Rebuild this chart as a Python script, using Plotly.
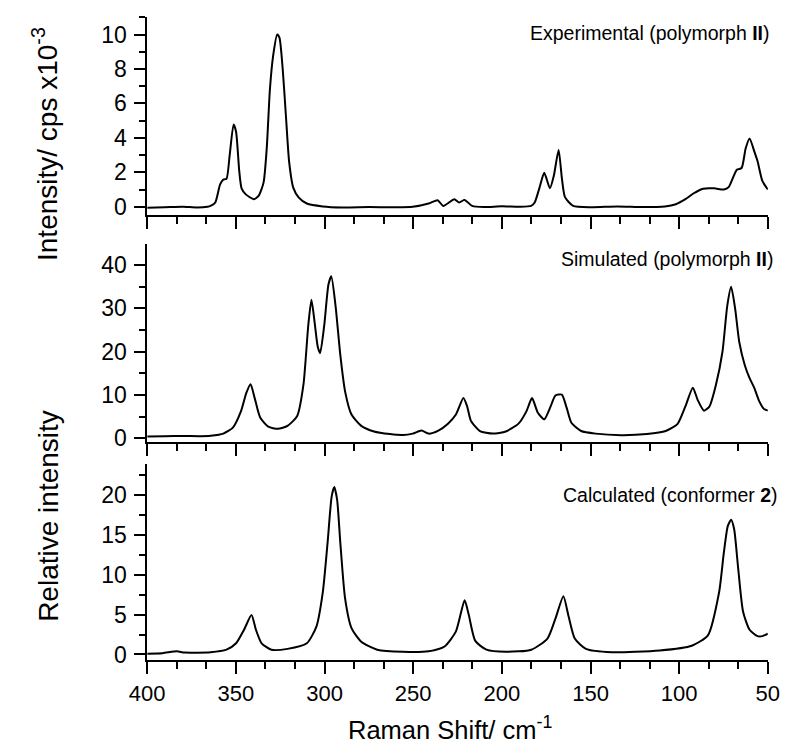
import plotly.graph_objects as go

# Raman shift (cm^-1) and intensities for the three spectra
exp_shift = [400, 390, 380, 372, 366, 364.3, 361.6, 358.9, 357.1, 355.3, 353.5, 351.3, 349.9,
             348.1, 346.8, 344.4, 339.9, 337.2, 334.4, 332.6, 330.8, 329, 326.7, 325.4, 323.6,
             321.8, 320, 317.6, 314.5, 310, 301, 290, 275, 260, 250.3, 241.3, 236.2, 233.1,
             226.8, 224.1, 221, 216.8, 210, 200, 190, 183.5, 181.5, 178.8, 176.1, 172.9, 170.7,
             168, 166.2, 164.4, 159.8, 150, 135, 120, 108, 101.9, 96.5, 92, 86.5, 80.2, 74.8,
             72.1, 67.5, 64.8, 62.5, 60.3, 57.6, 55.8, 53.1, 50]
exp_int = [-0.05, -0.03, 0.0, -0.04, 0.0, 0.05, 0.25, 1.3, 1.58, 1.62, 3.0, 4.78, 4.36,
           2.07, 1.07, 0.72, 0.44, 0.63, 1.4, 3.4, 6.84, 8.76, 10.0, 9.8, 8.0,
           5.3, 2.64, 1.1, 0.53, 0.19, 0.02, -0.04, -0.02, -0.03, 0.0, 0.19, 0.38, 0.05,
           0.44, 0.25, 0.4, 0.05, -0.02, 0.03, 0.0, 0.05, 0.25, 1.1, 1.97, 1.07, 1.8,
           3.3, 1.7, 0.56, 0.05, -0.03, 0.02, -0.02, 0.02, 0.15, 0.44, 0.77, 1.05, 1.07, 1.0,
           1.14, 2.15, 2.25, 3.4, 3.97, 3.2, 2.64, 1.5, 1.0]

sim_shift = [400, 390, 380, 370, 364.3, 357.1, 351.7, 347.1, 344.1, 341.7, 339.4, 336.3,
             331.7, 326.3, 320.9, 315.5, 311.9, 309.2, 307.4, 305.6, 303.8, 302.5, 300.2,
             297.8, 296.2, 293.8, 291.1, 288.4, 284.8, 279.3, 272.1, 263.1, 255.8, 250.3,
             245.3, 241.3, 235.8, 230.4, 225.9, 221.7, 219.6, 217.4, 212.4, 205.1, 197.8,
             190.6, 186.1, 183, 179.7, 176.1, 172.5, 169.8, 166.2, 163.5, 160.8, 155.3,
             147.2, 132.7, 118.2, 107.6, 101, 96.5, 92.3, 89.6, 86, 82.9, 79.3, 75.6, 72.9,
             70.7, 68.4, 66.1, 63, 60.3, 57.6, 54.9, 52.2, 50]
sim_int = [0.45, 0.5, 0.55, 0.5, 0.6, 1.1, 2.5, 6.3, 10.5, 12.5, 9.3, 4.8,
           2.7, 2.2, 2.9, 5.1, 12.4, 26, 32, 26.8, 21.1, 19.7, 26,
           35.5, 37.4, 30.6, 19.2, 10.8, 5.5, 2.9, 1.6, 1.0, 0.8, 1.1,
           1.8, 1.1, 1.8, 3.4, 5.5, 9.3, 7.4, 4.0, 1.7, 1.1, 1.6,
           3.4, 6.3, 9.3, 5.9, 4.4, 7.4, 9.9, 10.1, 7.1, 3.6, 1.7,
           1.1, 0.75, 1.0, 1.7, 3.3, 7.4, 11.7, 8.9, 6.4, 7.4, 12.3, 20.0, 30.6,
           35, 29.8, 22.2, 16.9, 13.9, 11.6, 8.6, 6.8, 6.4]

calc_shift = [400, 391.4, 383.3, 379, 364.3, 355.3, 349.9, 345.4, 341.2, 338.7, 335.5, 330,
              320.9, 310, 304.6, 301, 298.3, 296, 294.5, 292.9, 291.1, 288.4, 284.8, 279.3,
              270.3, 255.8, 241.3, 232.3, 225.9, 221, 218.7, 215, 208.7, 197.8, 183.4,
              174.3, 169.8, 165.3, 162.5, 158.9, 152.6, 138.1, 111, 92.9, 83.8, 77.5, 74.8,
              72.6, 70.7, 69, 66.7, 64, 60.3, 55.8, 53.1, 50]
calc_int = [0.1, 0.16, 0.4, 0.24, 0.28, 0.6, 1.4, 3.1, 4.95, 3.1, 1.4, 0.6,
            0.7, 1.4, 3.5, 7.8, 14.0, 19.8, 21, 19.4, 14.0, 7.0, 3.3, 1.6,
            0.6, 0.33, 0.4, 1.0, 2.9, 6.8, 5.0, 1.7, 0.6, 0.33, 0.6,
            2.0, 4.5, 7.3, 4.9, 2.0, 0.7, 0.28, 0.5, 1.1, 2.4, 7.8, 12.8,
            16.1, 16.9, 15.7, 10.7, 5.4, 3.1, 2.3, 2.3, 2.6]

panel_labels = ["Experimental (polymorph <b>II</b>)",
                "Simulated (polymorph <b>II</b>)",
                "Calculated (conformer <b>2</b>)"]

W, H = 794, 749
FONT = "Liberation Sans, Arial, sans-serif"


def px_x(p):
    return p / W


def px_y(p):
    return 1 - p / H


x_dom = [px_x(134.3), px_x(779.3)]
panels = [
    dict(x=exp_shift, y=exp_int, dom=(17, 218.3), rng=[-0.5, 11.03], dtick=2, minor=1),
    dict(x=sim_shift, y=sim_int, dom=(247.3, 447.7), rng=[-0.77, 44.87], dtick=10, minor=5),
    dict(x=calc_shift, y=calc_int, dom=(470.7, 669.3), rng=[-0.74, 23.84], dtick=5, minor=2.5),
]

fig = go.Figure()
layout = dict(
    width=W, height=H,
    margin=dict(l=0, r=0, t=0, b=0),
    paper_bgcolor="white", plot_bgcolor="white",
    showlegend=False,
    font=dict(family=FONT, color="black", size=22),
)

for i, p in enumerate(panels, start=1):
    sfx = "" if i == 1 else str(i)
    fig.add_trace(go.Scatter(
        x=p["x"], y=p["y"], mode="lines",
        line=dict(color="black", width=2, shape="spline", smoothing=0.6),
        xaxis="x" + sfx, yaxis="y" + sfx, hoverinfo="skip",
    ))
    layout["xaxis" + sfx] = dict(
        domain=x_dom, range=[400, 50], anchor="y" + sfx,
        showline=True, linecolor="black", linewidth=1.6,
        ticks="outside", ticklen=12, tickwidth=1.6, tickcolor="black",
        tick0=50, dtick=50, showgrid=False, zeroline=False,
        showticklabels=(i == 3), tickfont=dict(size=22, family=FONT),
        minor=dict(ticks="outside", ticklen=7, tickwidth=1.6, tickcolor="black",
                   tick0=50, dtick=50 / 3, showgrid=False),
    )
    layout["yaxis" + sfx] = dict(
        domain=[px_y(p["dom"][1]), px_y(p["dom"][0])], range=p["rng"], anchor="x" + sfx,
        showline=True, linecolor="black", linewidth=1.6,
        ticks="outside", ticklen=11, tickwidth=1.6, tickcolor="black",
        tick0=0, dtick=p["dtick"], showgrid=False, zeroline=False,
        tickfont=dict(size=23, family=FONT), ticklabelstandoff=3,
        minor=dict(ticks="outside", ticklen=6, tickwidth=1.6, tickcolor="black",
                   tick0=0, dtick=p["minor"], showgrid=False),
    )

annotations = [
    dict(text=panel_labels[0], x=px_x(784), y=px_y(33), xanchor="right", yanchor="middle",
         font=dict(size=19.5)),
    dict(text=panel_labels[1], x=px_x(787), y=px_y(262), xanchor="right", yanchor="middle",
         font=dict(size=19.5)),
    dict(text=panel_labels[2], x=px_x(792), y=px_y(502), xanchor="right", yanchor="middle",
         font=dict(size=19.5)),
    dict(text="Intensity/ cps x10<sup>-3</sup>", x=px_x(28), y=px_y(146), textangle=-90,
         xanchor="center", yanchor="middle", font=dict(size=28)),
    dict(text="Relative intensity", x=px_x(31), y=px_y(523), textangle=-90,
         xanchor="center", yanchor="middle", font=dict(size=28)),
    dict(text="Raman Shift/ cm<sup>-1</sup>", x=px_x(449), y=px_y(738),
         xanchor="center", yanchor="middle", font=dict(size=25.5)),
]
for a in annotations:
    a.update(xref="paper", yref="paper", showarrow=False)
    a["font"] = dict(family=FONT, color="black", size=a["font"]["size"])
layout["annotations"] = annotations

fig.update_layout(**layout)
fig.write_html("out.html")
